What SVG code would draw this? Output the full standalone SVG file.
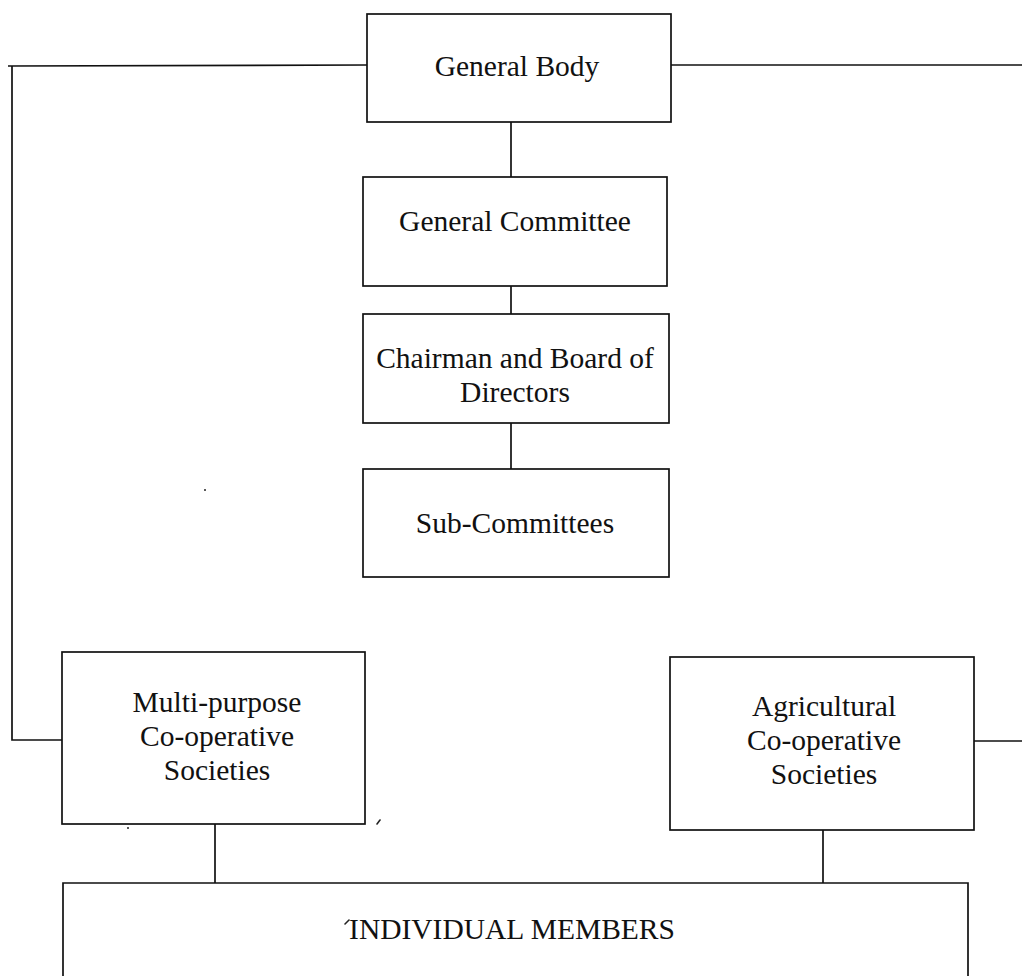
<svg xmlns="http://www.w3.org/2000/svg" width="1022" height="976" viewBox="0 0 1022 976">
  <style>
    .box { fill: #ffffff; stroke: #111111; stroke-width: 1.7; }
    .wire { fill: none; stroke: #111111; stroke-width: 1.7; }
    .lbl { font-family: "Liberation Serif", "Times New Roman", serif; font-size: 29.5px; fill: #111111; text-anchor: middle; }
    .speck { fill: none; stroke: #222222; stroke-width: 1.6; stroke-linecap: round; }
  </style>
  <rect width="1022" height="976" fill="#ffffff"/>

  <!-- connectors -->
  <g id="connectors">
    <!-- General Body to left and right branches -->
    <polyline class="wire" points="367,65 8,66"/>
    <polyline class="wire" points="12,66 12,740 62,740"/>
    <polyline class="wire" points="671,65 1022,65"/>
    <line class="wire" x1="1022" y1="741" x2="974" y2="741"/>
    <!-- vertical chain -->
    <line class="wire" x1="511" y1="122" x2="511" y2="177"/>
    <line class="wire" x1="511" y1="286" x2="511" y2="314"/>
    <line class="wire" x1="511" y1="423" x2="511" y2="469"/>
    <!-- societies to members -->
    <line class="wire" x1="215" y1="824" x2="215" y2="883"/>
    <line class="wire" x1="823" y1="830" x2="823" y2="883"/>
  </g>

  <g id="general-body">
    <rect class="box" x="367" y="14" width="304" height="108"/>
    <text class="lbl" x="517" y="76">General Body</text>
  </g>

  <g id="general-committee">
    <rect class="box" x="363" y="177" width="304" height="109"/>
    <text class="lbl" x="515" y="231">General Committee</text>
  </g>

  <g id="chairman-board">
    <rect class="box" x="363" y="314" width="306" height="109"/>
    <text class="lbl" x="515" y="368">Chairman and Board of</text>
    <text class="lbl" x="515" y="402">Directors</text>
  </g>

  <g id="sub-committees">
    <rect class="box" x="363" y="469" width="306" height="108"/>
    <text class="lbl" x="515" y="533">Sub-Committees</text>
  </g>

  <g id="multi-purpose">
    <rect class="box" x="62" y="652" width="303" height="172"/>
    <text class="lbl" x="217" y="712">Multi-purpose</text>
    <text class="lbl" x="217" y="746">Co-operative</text>
    <text class="lbl" x="217" y="780">Societies</text>
  </g>

  <g id="agricultural">
    <rect class="box" x="670" y="657" width="304" height="173"/>
    <text class="lbl" x="824" y="716">Agricultural</text>
    <text class="lbl" x="824" y="750">Co-operative</text>
    <text class="lbl" x="824" y="784">Societies</text>
  </g>

  <g id="individual-members">
    <path class="wire" d="M63,977 V883 H968 V977"/>
    <text class="lbl" x="512" y="939">INDIVIDUAL MEMBERS</text>
    <line class="speck" x1="345" y1="924" x2="349" y2="920"/>
  </g>

  <!-- loose specks on the sheet -->
  <line class="speck" x1="377" y1="824" x2="380" y2="820"/>
  <circle cx="128" cy="828" r="1" fill="#222222"/>
  <circle cx="205" cy="490" r="1" fill="#222222"/>
</svg>
